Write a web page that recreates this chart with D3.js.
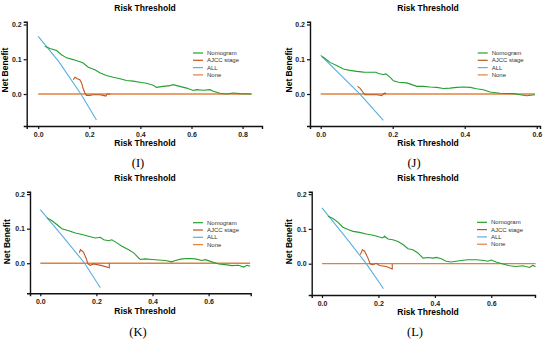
<!DOCTYPE html>
<html>
<head>
<meta charset="utf-8">
<script src="https://cdn.jsdelivr.net/npm/d3@7"></script>
<style>
  body { margin: 0; background: #fff; }
  svg text { font-family: "Liberation Sans", Arial, sans-serif; }
  .tick text { font-size: 7px; font-weight: bold; }
  .ttl { font-size: 8.5px; font-weight: bold; }
  .leg { font-size: 6px; fill: #333; }
  .plabel { font-family: "Liberation Serif", "Times New Roman", serif !important; font-size: 12.5px; }
</style>
</head>
<body>
<div id="chart"></div>
<script>
var svgWidth = 550;
var svgHeight = 341;

var seriesNames = ["Nomogram", "AJCC stage", "ALL", "None"];
var seriesColors = ["#23a02f", "#c1561f", "#5aaee0", "#e0823f"];
var yTicks = [0, 0.1, 0.2];

// panel I
var nomI = [[0.026,0.1375],[0.046,0.131],[0.072,0.125],[0.091,0.113],[0.111,0.104],[0.137,0.099],[0.157,0.094],[0.176,0.089],[0.196,0.077],[0.222,0.070],[0.241,0.061],[0.267,0.053],[0.294,0.048],[0.320,0.044],[0.346,0.039],[0.372,0.037],[0.398,0.034],[0.424,0.031],[0.450,0.025],[0.463,0.019],[0.489,0.022],[0.515,0.024],[0.528,0.027],[0.554,0.022],[0.581,0.017],[0.607,0.010],[0.620,0.0125],[0.646,0.011],[0.672,0.0125],[0.685,0.008],[0.711,0.002],[0.737,0],[0.763,0.003],[0.789,0.001],[0.835,0]];
var ajccI = [[0.137,0.041],[0.144,0.048],[0.153,0.044],[0.163,0.041],[0.170,0.032],[0.176,0.015],[0.183,0.003],[0.189,-0.004],[0.202,-0.004],[0.215,-0.002],[0.241,-0.002],[0.254,-0.004],[0.265,-0.006],[0.270,0],[0.283,0]];
var allI = [[0,0.166],[0.08,0.094],[0.167,0],[0.228,-0.075]];
var noneI = [[0,0],[0.835,0]];
var xTicksI = [0, 0.2, 0.4, 0.6, 0.8];

// panel J
var nomJ = [[0.004,0.108],[0.012,0.102],[0.026,0.091],[0.044,0.082],[0.063,0.072],[0.081,0.068],[0.100,0.065],[0.119,0.063],[0.137,0.0625],[0.154,0.0625],[0.160,0.059],[0.174,0.056],[0.181,0.058],[0.193,0.048],[0.202,0.038],[0.216,0.034],[0.239,0.032],[0.253,0.027],[0.267,0.022],[0.285,0.022],[0.304,0.020],[0.322,0.019],[0.341,0.016],[0.359,0.017],[0.378,0.019],[0.396,0.020],[0.415,0.019],[0.433,0.015],[0.452,0.0125],[0.470,0.006],[0.498,0.002],[0.535,0.001],[0.554,-0.002],[0.572,-0.005],[0.595,-0.002]];
var ajccJ = [[0.102,0.022],[0.109,0.017],[0.119,0.003],[0.123,-0.002],[0.137,-0.002],[0.156,-0.002],[0.170,-0.005],[0.174,0],[0.179,0.003],[0.181,0]];
var allJ = [[0,0.1115],[0.06,0.05],[0.109,0],[0.174,-0.076]];
var noneJ = [[0,0],[0.595,0]];
var xTicksJ = [0, 0.2, 0.4, 0.6];

// panel K
var nomK = [[0.024,0.131],[0.042,0.123],[0.059,0.112],[0.077,0.100],[0.101,0.094],[0.125,0.0875],[0.149,0.083],[0.172,0.078],[0.196,0.073],[0.214,0.075],[0.226,0.068],[0.244,0.065],[0.255,0.068],[0.273,0.059],[0.291,0.049],[0.315,0.039],[0.333,0.030],[0.345,0.020],[0.356,0.011],[0.374,0.0125],[0.398,0.011],[0.422,0.0095],[0.446,0.008],[0.469,0.004],[0.481,0.008],[0.505,0.0125],[0.529,0.0135],[0.552,0.0125],[0.576,0.008],[0.588,0.0105],[0.612,0.004],[0.636,-0.002],[0.659,-0.004],[0.683,-0.007],[0.707,-0.006],[0.725,-0.011],[0.737,-0.006],[0.748,-0.009]];
var ajccK = [[0.139,0.030],[0.143,0.039],[0.154,0.032],[0.163,0.015],[0.170,-0.002],[0.178,-0.006],[0.190,-0.002],[0.220,-0.007],[0.246,-0.013],[0.246,0]];
var allK = [[0,0.155],[0.08,0.078],[0.158,0],[0.214,-0.071]];
var noneK = [[0,0],[0.748,0]];
var xTicksK = [0, 0.2, 0.4, 0.6];

// panel L
var nomL = [[0.021,0.1365],[0.039,0.130],[0.057,0.119],[0.074,0.105],[0.092,0.098],[0.110,0.093],[0.133,0.090],[0.157,0.0855],[0.181,0.082],[0.198,0.078],[0.214,0.074],[0.222,0.079],[0.234,0.071],[0.251,0.069],[0.269,0.064],[0.287,0.055],[0.305,0.043],[0.322,0.040],[0.340,0.031],[0.358,0.016],[0.375,0.018],[0.393,0.016],[0.405,0.018],[0.423,0.014],[0.440,0.007],[0.458,0.005],[0.476,0.007],[0.493,0.009],[0.517,0.0115],[0.547,0.0115],[0.576,0.009],[0.588,0.007],[0.600,0.0105],[0.617,0.005],[0.641,-0.001],[0.665,-0.006],[0.688,-0.008],[0.712,-0.006],[0.735,-0.011],[0.747,-0.005],[0.757,-0.008]];
var ajccL = [[0.136,0.026],[0.143,0.040],[0.151,0.036],[0.163,0.016],[0.171,-0.001],[0.181,-0.003],[0.192,0.001],[0.204,-0.005],[0.228,-0.008],[0.249,-0.015],[0.249,0]];
var allL = [[0,0.1605],[0.08,0.08],[0.157,0],[0.218,-0.072]];
var noneL = [[0,0],[0.757,0]];
var xTicksL = [0, 0.2, 0.4, 0.6];

var svg = d3.select("#chart")
  .append("svg")
  .attr("width", svgWidth)
  .attr("height", svgHeight);

var panels = [
  { label: "(I)", series: [nomI, ajccI, allI, noneI], xTicks: xTicksI,
    xDomain: [-0.045, 0.876], xRange: [26.7, 262], yDomain: [-0.092, 0.208], yRange: [126, 21.7],
    titleX: 145, titleY: 11, xLabY: 146, yLabX: 8, yLabY: 70, pX: 138, pY: 167, legX: 193, legY: 53 },
  { label: "(J)", series: [nomJ, ajccJ, allJ, noneJ], xTicks: xTicksJ,
    xDomain: [-0.0297, 0.609], xRange: [310, 540], yDomain: [-0.092, 0.208], yRange: [126, 21.7],
    titleX: 428, titleY: 11, xLabY: 146, yLabX: 292, yLabY: 70, pX: 414, pY: 167, legX: 477.7, legY: 53 },
  { label: "(K)", series: [nomK, ajccK, allK, noneK], xTicks: xTicksK,
    xDomain: [-0.0367, 0.75], xRange: [30, 250.7], yDomain: [-0.087, 0.207], yRange: [293.3, 191.7],
    titleX: 145, titleY: 181, xLabY: 314, yLabX: 10, yLabY: 241.7, pX: 138, pY: 336, legX: 193, legY: 222.7 },
  { label: "(L)", series: [nomL, ajccL, allL, noneL], xTicks: xTicksL,
    xDomain: [-0.0365, 0.755], xRange: [311.7, 535], yDomain: [-0.09, 0.207], yRange: [295, 191.7],
    titleX: 428, titleY: 181, xLabY: 315, yLabX: 292, yLabY: 241.7, pX: 415, pY: 336, legX: 477, legY: 222.3 }
];

panels.forEach(drawPanel);

function drawPanel(p) {
  var x = d3.scaleLinear().domain(p.xDomain).range(p.xRange);
  var y = d3.scaleLinear().domain(p.yDomain).range(p.yRange);
  var g = svg.append("g");

  var line = d3.line()
    .x(d => x(d[0]))
    .y(d => y(d[1]));

  // draw order: None, ALL, AJCC, Nomogram on top
  [3, 2, 1, 0].forEach(function(i) {
    g.append("path")
      .datum(p.series[i])
      .attr("fill", "none")
      .attr("stroke", seriesColors[i])
      .attr("stroke-width", i === 3 ? 1.3 : 1.1)
      .attr("d", line);
  });

  var xAxis = g.append("g")
    .attr("transform", `translate(0, ${p.yRange[0]})`)
    .call(d3.axisBottom(x).tickValues(p.xTicks).tickFormat(d3.format(".1f")).tickSizeOuter(0).tickSize(3).tickPadding(3));

  var yAxis = g.append("g")
    .attr("transform", `translate(${p.xRange[0]}, 0)`)
    .call(d3.axisLeft(y).tickValues(yTicks).tickFormat(d3.format(".1f")).tickSizeOuter(0).tickSize(3).tickPadding(2));

  [xAxis, yAxis].forEach(function(a) {
    a.select(".domain").attr("stroke", "#111").attr("stroke-width", 1.4);
    a.selectAll(".tick line").attr("stroke", "#111").attr("stroke-width", 1.2);
    a.selectAll(".tick text").attr("fill", "#222");
  });

  g.append("text").attr("class", "ttl")
    .attr("x", p.titleX).attr("y", p.titleY)
    .attr("text-anchor", "middle")
    .text("Risk Threshold");

  g.append("text").attr("class", "ttl")
    .attr("x", p.titleX).attr("y", p.xLabY)
    .attr("text-anchor", "middle")
    .text("Risk Threshold");

  g.append("text").attr("class", "ttl")
    .attr("transform", `translate(${p.yLabX}, ${p.yLabY}) rotate(-90)`)
    .attr("text-anchor", "middle")
    .text("Net Benefit");

  g.append("text").attr("class", "plabel")
    .attr("x", p.pX).attr("y", p.pY)
    .attr("text-anchor", "middle")
    .text(p.label);

  // legend
  seriesNames.forEach(function(name, i) {
    var ly = p.legY + i * 7.3;
    g.append("line")
      .attr("x1", p.legX).attr("x2", p.legX + 10)
      .attr("y1", ly).attr("y2", ly)
      .attr("stroke", seriesColors[i])
      .attr("stroke-width", 1.2);
    g.append("text").attr("class", "leg")
      .attr("x", p.legX + 14).attr("y", ly + 2)
      .text(name);
  });
}
</script>
</body>
</html>
